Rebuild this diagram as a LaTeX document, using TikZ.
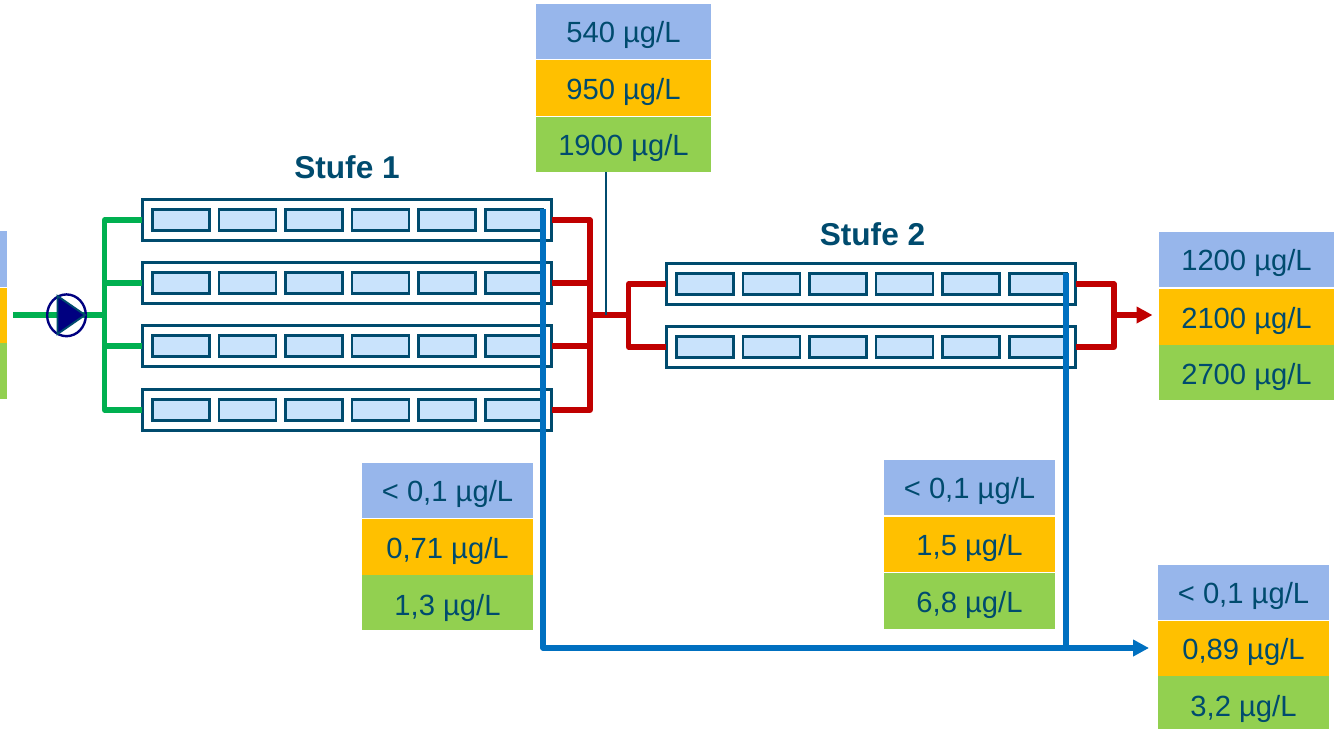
\documentclass[tikz,border=0pt]{standalone}
\usepackage{fontspec}
\setmainfont{Liberation Sans}
\usetikzlibrary{arrows.meta,calc}
\definecolor{tealdark}{HTML}{004B6E}
\definecolor{rowblue}{HTML}{97B6EB}
\definecolor{roworange}{HTML}{FFC000}
\definecolor{rowgreen}{HTML}{92D050}
\definecolor{cellblue}{HTML}{C9E3FC}
\definecolor{pipegreen}{HTML}{00B050}
\definecolor{pipered}{HTML}{C00000}
\definecolor{pipeblue}{HTML}{0070C0}
\definecolor{pumpnavy}{HTML}{000080}
\tikzset{
  x=0.75pt,y=-0.75pt,
  rowbox/.style={inner sep=0pt,outer sep=0pt,text=tealdark,text height=17pt,text depth=0pt,font=\fontsize{21.9}{24}\selectfont},
  outerbox/.style={draw=tealdark,line width=1.9pt,fill=white,inner sep=0pt,outer sep=0pt,minimum height=31pt,minimum width=307pt},
  cellbox/.style={draw=tealdark,line width=1.9pt,fill=cellblue,inner sep=0pt,outer sep=0pt,minimum height=16pt,minimum width=43pt},
  title/.style={text=tealdark,font=\fontsize{23.7}{26}\selectfont\bfseries,inner sep=0pt},
  gpipe/.style={draw=pipegreen,line width=3.8pt,line join=round},
  rpipe/.style={draw=pipered,line width=3.8pt,line join=round},
  bpipe/.style={draw=pipeblue,line width=3.8pt,line join=round},
  thin tap/.style={draw=tealdark,line width=1.2pt},
}
\newcommand{\rowrect}[7]{% name x0 y0 x1 y1 colour text
  \node[rowbox,fill=#6,minimum width={(#4-#2)*0.75pt},minimum height={(#5-#3)*0.75pt}] (#1) at ({(#2+#4)/2},{(#3+#5)/2}) {#7};}
\newcommand{\moduleS}[3]{% name x y(centre)
  \node[outerbox] (#1) at (#2,#3) {};
  \foreach \i/\dx in {1/181,2/247.5,3/314,4/380.5,5/447,6/514}{
    \node[cellbox] (#1c\i) at ({#2-347+\dx},#3) {};
  }}
\begin{document}
\begin{tikzpicture}
\useasboundingbox (0,0) rectangle (1336,729);
% data tables
\rowrect{ta}{536}{4}{711}{59}{rowblue}{540 µg/L}
\rowrect{tb}{536}{60}{711}{116}{roworange}{950 µg/L}
\rowrect{tc}{536}{117}{711}{172}{rowgreen}{1900 µg/L}
\rowrect{la}{0}{231}{7}{287}{rowblue}{}
\rowrect{lb}{0}{288}{7}{343}{roworange}{}
\rowrect{lc}{0}{343}{7}{399}{rowgreen}{}
\rowrect{ra}{1159}{232}{1334}{287}{rowblue}{1200 µg/L}
\rowrect{rb}{1159}{289}{1334}{345}{roworange}{2100 µg/L}
\rowrect{rc}{1159}{345}{1334}{400}{rowgreen}{\raisebox{-0.8pt}{2700 µg/L}}
\rowrect{ba}{1158}{565}{1329}{620}{rowblue}{< 0,1 µg/L}
\rowrect{bb}{1158}{621}{1329}{676}{roworange}{0,89 µg/L}
\rowrect{bc}{1158}{676}{1329}{729}{rowgreen}{\raisebox{-2.2pt}{3,2 µg/L}}
\rowrect{ma}{362}{463}{533}{518}{rowblue}{< 0,1 µg/L}
\rowrect{mb}{362}{519}{533}{575}{roworange}{0,71 µg/L}
\rowrect{mc}{362}{575}{533}{630}{rowgreen}{\raisebox{-1.5pt}{1,3 µg/L}}
\rowrect{na}{884}{460}{1055}{515}{rowblue}{< 0,1 µg/L}
\rowrect{nb}{884}{517}{1055}{572}{roworange}{1,5 µg/L}
\rowrect{nc}{884}{573}{1055}{629}{rowgreen}{6,8 µg/L}
% titles
\node[title] (t1) at (347,167) {Stufe 1};
\node[title] (t2) at (872.5,234) {Stufe 2};
% membrane modules
\moduleS{sa}{347}{220}
\moduleS{sb}{347}{283}
\moduleS{sc}{347}{346}
\moduleS{sd}{347}{410}
\moduleS{ua}{871}{284}
\moduleS{ub}{871}{347}
% junctions
\coordinate (gin) at (13,315);
\coordinate (gj) at (104.5,315);
\coordinate (rj) at (590,315);
\coordinate (rk) at (628.5,315);
\coordinate (tap) at (606,315);
\coordinate (oj) at (1114,315);
\coordinate (oe) at (1152.5,315);
\coordinate (bc1) at (543,648);
\coordinate (bc2) at (1066,648);
\coordinate (be) at (1149,648);
% green feed
\draw[gpipe] (gin) -- (gj);
\draw[gpipe] (sa.west) -| (gj);
\draw[gpipe] (sd.west) -| (gj);
\draw[gpipe] (sb.west) -- (gj |- sb.west);
\draw[gpipe] (sc.west) -- (gj |- sc.west);
% pump
\node[draw=pumpnavy,line width=1.8pt,circle,inner sep=0pt,minimum width=29pt,yscale=1.08] (pump) at (66.5,315.3) {};
\draw[draw=tealdark,line width=1.4pt,fill=pumpnavy,line join=miter] (57.5,296) -- (85,315) -- (57.5,334) -- cycle;
% red stage 1 to stage 2
\draw[rpipe] (sa.east) -| (rj);
\draw[rpipe] (sd.east) -| (rj);
\draw[rpipe] (sb.east) -- (rj |- sb.east);
\draw[rpipe] (sc.east) -- (rj |- sc.east);
\draw[rpipe] (rj) -- (rk);
\draw[rpipe] (ua.west) -| (rk);
\draw[rpipe] (ub.west) -| (rk);
% sample tap
\draw[thin tap] (tc.south -| tap) -- (tap);
% red stage 2 out
\draw[rpipe] (ua.east) -| (oj);
\draw[rpipe] (ub.east) -| (oj);
\draw[rpipe,-{Triangle[length=12pt,width=12pt]}] (oj) -- (oe);
% blue permeate
\draw[bpipe] (bc1 |- sac6.north) -- (bc1) -- (bc2);
\draw[bpipe,-{Triangle[length=12pt,width=12pt]}] (bc2) -- (be);
\draw[bpipe] (bc2 |- uac6.north) -- (bc2);
\end{tikzpicture}
\end{document}
